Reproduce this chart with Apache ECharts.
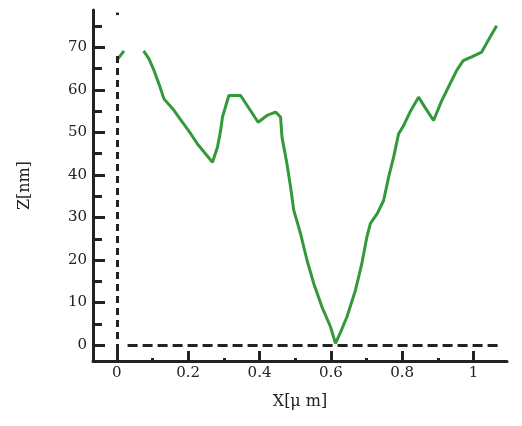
<!DOCTYPE html>
<html>
<head>
<meta charset="utf-8">
<script src="https://cdn.jsdelivr.net/npm/echarts@6/dist/echarts.min.js"></script>
<style>
  html, body { margin: 0; padding: 0; background: #fff; }
  #chart { width: 522px; height: 426px; }
</style>
</head>
<body>
<div id="chart"></div>
<script>
// profile X [µm] and height Z [nm]; null = gap in the trace
const xs = [0, 0.02, 0.05, 0.075, 0.09, 0.104, 0.118, 0.132, 0.16, 0.184, 0.207, 0.226, 0.268,
  0.282, 0.291, 0.296, 0.314, 0.347, 0.396, 0.421, 0.445, 0.459, 0.463, 0.477, 0.487, 0.496,
  0.515, 0.533, 0.552, 0.575, 0.599, 0.613, 0.627, 0.645, 0.669, 0.687, 0.701, 0.711, 0.73,
  0.748, 0.762, 0.776, 0.79, 0.804, 0.822, 0.846, 0.864, 0.888, 0.911, 0.934, 0.953, 0.971,
  0.995, 1.023, 1.041, 1.065]
const zs = [67, 69.2, null, 69.2, 67.3, 64.6, 61.4, 57.9, 55.2, 52.4, 49.7, 47.3, 43.0,
  46.5, 50.5, 53.6, 58.7, 58.7, 52.4, 54, 54.8, 53.6, 48.9, 42.6, 37.2, 31.7,
  26.2, 20, 14.5, 9, 4.3, 0.4, 3, 6.6, 12.9, 19.2, 25.4, 28.6, 30.9,
  34, 39.5, 44.2, 49.7, 51.6, 54.8, 58.3, 55.9, 52.8, 57.5, 61.4, 64.6, 66.9,
  67.8, 68.9, 71.6, 75.1]

const xMajor = [0, 0.2, 0.4, 0.6, 0.8, 1]
const xMinor = [0.1, 0.3, 0.5, 0.7, 0.9]
const yMajor = [0, 10, 20, 30, 40, 50, 60, 70]
const yMinor = [5, 15, 25, 35, 45, 55, 65, 75]

const xMin = -0.067, xMax = 1.094
const yMin = -3.75, yMax = 78.8

const ink = '#222'
const font = { fontFamily: 'DejaVu Serif', fontSize: 15, color: ink }
const nameFont = { fontFamily: 'DejaVu Serif', fontSize: 16, color: ink }

const chart = echarts.init(document.getElementById('chart'))
const option = {
  animation: false,
  grid: { left: 93, right: 15, top: 10, bottom: 65 },
  xAxis: [
    {
      type: 'value', min: xMin, max: xMax,
      name: 'X[μ m]', nameLocation: 'middle', nameGap: 33,
      nameTextStyle: nameFont,
      axisLine: { onZero: false, lineStyle: { color: ink, width: 3 } },
      axisTick: { inside: true, length: 10, customValues: xMajor, lineStyle: { color: ink, width: 3 } },
      axisLabel: Object.assign({ customValues: xMajor, margin: 5 }, font),
      splitLine: { show: false }
    },
    {
      type: 'value', min: xMin, max: xMax, position: 'bottom',
      axisLine: { show: false, onZero: false },
      axisTick: { inside: true, length: 3, customValues: xMinor, lineStyle: { color: ink, width: 3 } },
      axisLabel: { show: false },
      splitLine: { show: false }
    }
  ],
  yAxis: [
    {
      type: 'value', min: yMin, max: yMax,
      name: 'Z[nm]', nameLocation: 'middle', nameGap: 60,
      nameTextStyle: nameFont,
      axisLine: { onZero: false, lineStyle: { color: ink, width: 3 } },
      axisTick: { inside: true, length: 12, customValues: yMajor, lineStyle: { color: ink, width: 3 } },
      axisLabel: Object.assign({ customValues: yMajor, margin: 6 }, font),
      splitLine: { show: false }
    },
    {
      type: 'value', min: yMin, max: yMax, position: 'left',
      axisLine: { show: false, onZero: false },
      axisTick: { inside: true, length: 9, customValues: yMinor, lineStyle: { color: ink, width: 3 } },
      axisLabel: { show: false },
      splitLine: { show: false }
    }
  ],
  series: [
    {
      type: 'line',
      data: xs.map((x, i) => [x, zs[i] === null ? '-' : zs[i]]),
      showSymbol: false,
      connectNulls: false,
      lineStyle: { color: '#33993a', width: 3 },
      z: 3,
      markLine: {
        silent: true,
        symbol: 'none',
        label: { show: false },
        lineStyle: { color: ink, width: 3, type: [7, 5] },
        data: [
          [{ coord: [0, 78.2] }, { coord: [0, 77.6], lineStyle: { type: 'solid' } }],
          [{ coord: [0, 68] }, { coord: [0, yMin] }],
          [{ coord: [0.03, 0], lineStyle: { type: [10, 5] } }, { coord: [1.068, 0] }]
        ]
      }
    }
  ]
}
chart.setOption(option)
</script>
</body>
</html>
